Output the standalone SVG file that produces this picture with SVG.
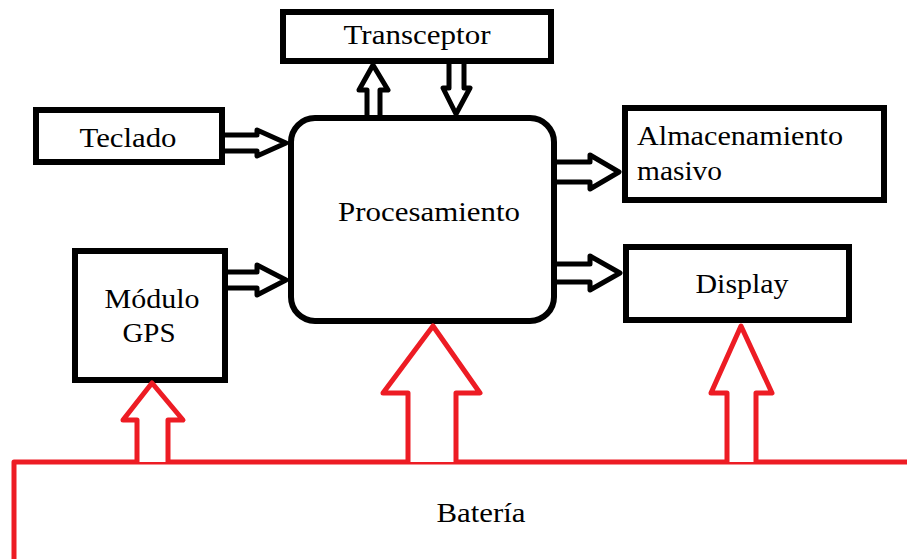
<svg xmlns="http://www.w3.org/2000/svg" width="907" height="559" viewBox="0 0 907 559">
<style>
.box{fill:#fff;stroke:#000;stroke-width:6}
.arr{fill:#fff;stroke:#000;stroke-width:5;stroke-linejoin:round}
.red{fill:#fff;stroke:#ed1c24;stroke-width:5;stroke-linejoin:round}
text{font-family:"Liberation Serif","Times New Roman",serif;font-size:27px;fill:#000}
</style>
<rect width="907" height="559" fill="#fff"/>
<g id="bateria">
<path class="red" d="M14 562 V462 H910"/>
<text x="481" y="522" text-anchor="middle" textLength="89" lengthAdjust="spacingAndGlyphs">Batería</text>
</g>
<g id="transceptor">
<rect class="box" x="283" y="12" width="268" height="49"/>
<text x="417" y="44" text-anchor="middle" textLength="147" lengthAdjust="spacingAndGlyphs">Transceptor</text>
</g>
<g id="teclado">
<rect class="box" x="36" y="110" width="186" height="52"/>
<text x="128" y="147" text-anchor="middle" textLength="97" lengthAdjust="spacingAndGlyphs">Teclado</text>
</g>
<g id="gps">
<rect class="box" x="75" y="251" width="150" height="129"/>
<text x="152" y="308" text-anchor="middle" textLength="95" lengthAdjust="spacingAndGlyphs">Módulo</text>
<text x="149" y="342" text-anchor="middle" textLength="53" lengthAdjust="spacingAndGlyphs">GPS</text>
</g>
<g id="procesamiento">
<rect class="box" x="291" y="118" width="263" height="203" rx="24"/>
<text x="429" y="221" text-anchor="middle" textLength="182" lengthAdjust="spacingAndGlyphs">Procesamiento</text>
</g>
<g id="almacenamiento">
<rect class="box" x="625" y="108" width="259" height="92"/>
<text x="637" y="145" textLength="206" lengthAdjust="spacingAndGlyphs">Almacenamiento</text>
<text x="637" y="180" textLength="85" lengthAdjust="spacingAndGlyphs">masivo</text>
</g>
<g id="display">
<rect class="box" x="626" y="247" width="223" height="73"/>
<text x="742" y="293" text-anchor="middle" textLength="93" lengthAdjust="spacingAndGlyphs">Display</text>
</g>
<g id="connectors">
<polyline class="arr" points="225,135 257,135 257,130 286,143 257,156 257,151 225,151"/>
<polyline class="arr" points="228,272 257,272 257,265 286,280 257,295 257,288 228,288"/>
<polyline class="arr" points="557,162 590,162 590,155 619,172 590,189 590,182 557,182"/>
<polyline class="arr" points="557,264 590,264 590,256 620,273 590,290 590,282 557,282"/>
<polyline class="arr" points="367,115 367,90 359,90 373,65 388,90 380,90 380,115"/>
<polyline class="arr" points="449,64 449,88 443,88 456,114 470,88 464,88 464,64"/>
<polyline class="red" points="137,462 137,420 123,420 152,383 183,420 168,420 168,462"/>
<polyline class="red" points="408,462 408,393 383,393 433,326 480,393 456,393 456,462"/>
<polyline class="red" points="727,462 727,393 711,393 741,326 772,393 756,393 756,462"/>
</g>
</svg>
